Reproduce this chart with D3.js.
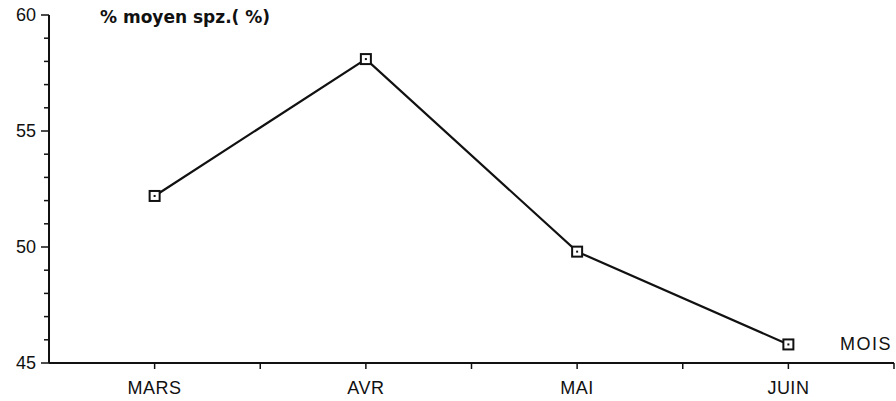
<!DOCTYPE html>
<html>
<head>
<meta charset="utf-8">
<script src="https://cdn.jsdelivr.net/npm/d3@7"></script>
<style>
    body { margin: 0; background: #fff; }
    text { font-family: 'Liberation Sans', Arial, sans-serif; fill: #111; }
</style>
</head>
<body>
<svg></svg>
<script>
const months = ['MARS', 'AVR', 'MAI', 'JUIN']
const spz = [52.2, 58.1, 49.8, 45.8]
const yLabels = [45, 50, 55, 60]

const width = 896,
    height = 401
const mLeft = 49,
    mRight = 894,
    mTop = 15,
    mBottom = 363

const svg = d3.select('svg').attr('width', width).attr('height', height)

const x = d3.scalePoint().domain(months).range([mLeft, mRight]).padding(0.5)
const y = d3.scaleLinear().domain([45, 60]).range([mBottom, mTop])

// y axis: ticks every unit, labels every 5
const yAxis = svg.append('g').attr('transform', `translate(${mLeft},0)`)
yAxis
    .append('line')
    .attr('y1', y(60))
    .attr('y2', y(45))
    .attr('stroke', '#111')
    .attr('stroke-width', 2)
yAxis
    .selectAll('line.tick')
    .data(d3.range(45, 61))
    .join('line')
    .attr('class', 'tick')
    .attr('x1', (d) => (yLabels.includes(d) ? -8 : -5))
    .attr('x2', 0)
    .attr('y1', (d) => y(d))
    .attr('y2', (d) => y(d))
    .attr('stroke', '#111')
    .attr('stroke-width', 1.5)
yAxis
    .selectAll('text')
    .data(yLabels)
    .join('text')
    .attr('x', -13)
    .attr('y', (d) => y(d))
    .attr('dy', '0.35em')
    .attr('text-anchor', 'end')
    .attr('font-size', 18)
    .text((d) => d)

// x axis
const xAxis = svg.append('g').attr('transform', `translate(0,${mBottom})`)
xAxis
    .append('line')
    .attr('x1', mLeft)
    .attr('x2', mRight)
    .attr('stroke', '#111')
    .attr('stroke-width', 2)
const step = x.step()
const xTicks = d3.range(0, months.length * 2 + 1).map((i) => mLeft + (i * step) / 2)
xAxis
    .selectAll('line.tick')
    .data(xTicks.slice(1))
    .join('line')
    .attr('class', 'tick')
    .attr('x1', (d) => d)
    .attr('x2', (d) => d)
    .attr('y1', 0)
    .attr('y2', 6)
    .attr('stroke', '#111')
    .attr('stroke-width', 1.5)
xAxis
    .selectAll('text')
    .data(months)
    .join('text')
    .attr('x', (d) => x(d))
    .attr('y', 31)
    .attr('text-anchor', 'middle')
    .attr('font-size', 18)
    .attr('letter-spacing', 0.5)
    .text((d) => d)

// titles
svg.append('text')
    .attr('x', 100)
    .attr('y', 23)
    .style('font-family', "'DejaVu Sans', sans-serif")
    .attr('font-size', 17)
    .attr('font-weight', 'bold')
    .text('% moyen spz.( %)')
svg.append('text')
    .attr('x', 892)
    .attr('y', 350)
    .attr('text-anchor', 'end')
    .attr('font-size', 18)
    .attr('letter-spacing', 1.5)
    .text('MOIS')

// series
const data = months.map((m, i) => ({ m, v: spz[i] }))
const line = d3
    .line()
    .x((d) => x(d.m))
    .y((d) => y(d.v))
svg.append('path')
    .datum(data)
    .attr('fill', 'none')
    .attr('stroke', '#111')
    .attr('stroke-width', 2.2)
    .attr('d', line)

const marks = svg
    .selectAll('g.mark')
    .data(data)
    .join('g')
    .attr('class', 'mark')
    .attr('transform', (d) => `translate(${x(d.m)},${y(d.v)})`)
marks
    .append('rect')
    .attr('x', -5)
    .attr('y', -5)
    .attr('width', 10)
    .attr('height', 10)
    .attr('fill', '#fff')
    .attr('stroke', '#111')
    .attr('stroke-width', 2)
marks.append('rect').attr('x', -1).attr('y', -1).attr('width', 2).attr('height', 2).attr('fill', '#111')
</script>
</body>
</html>
